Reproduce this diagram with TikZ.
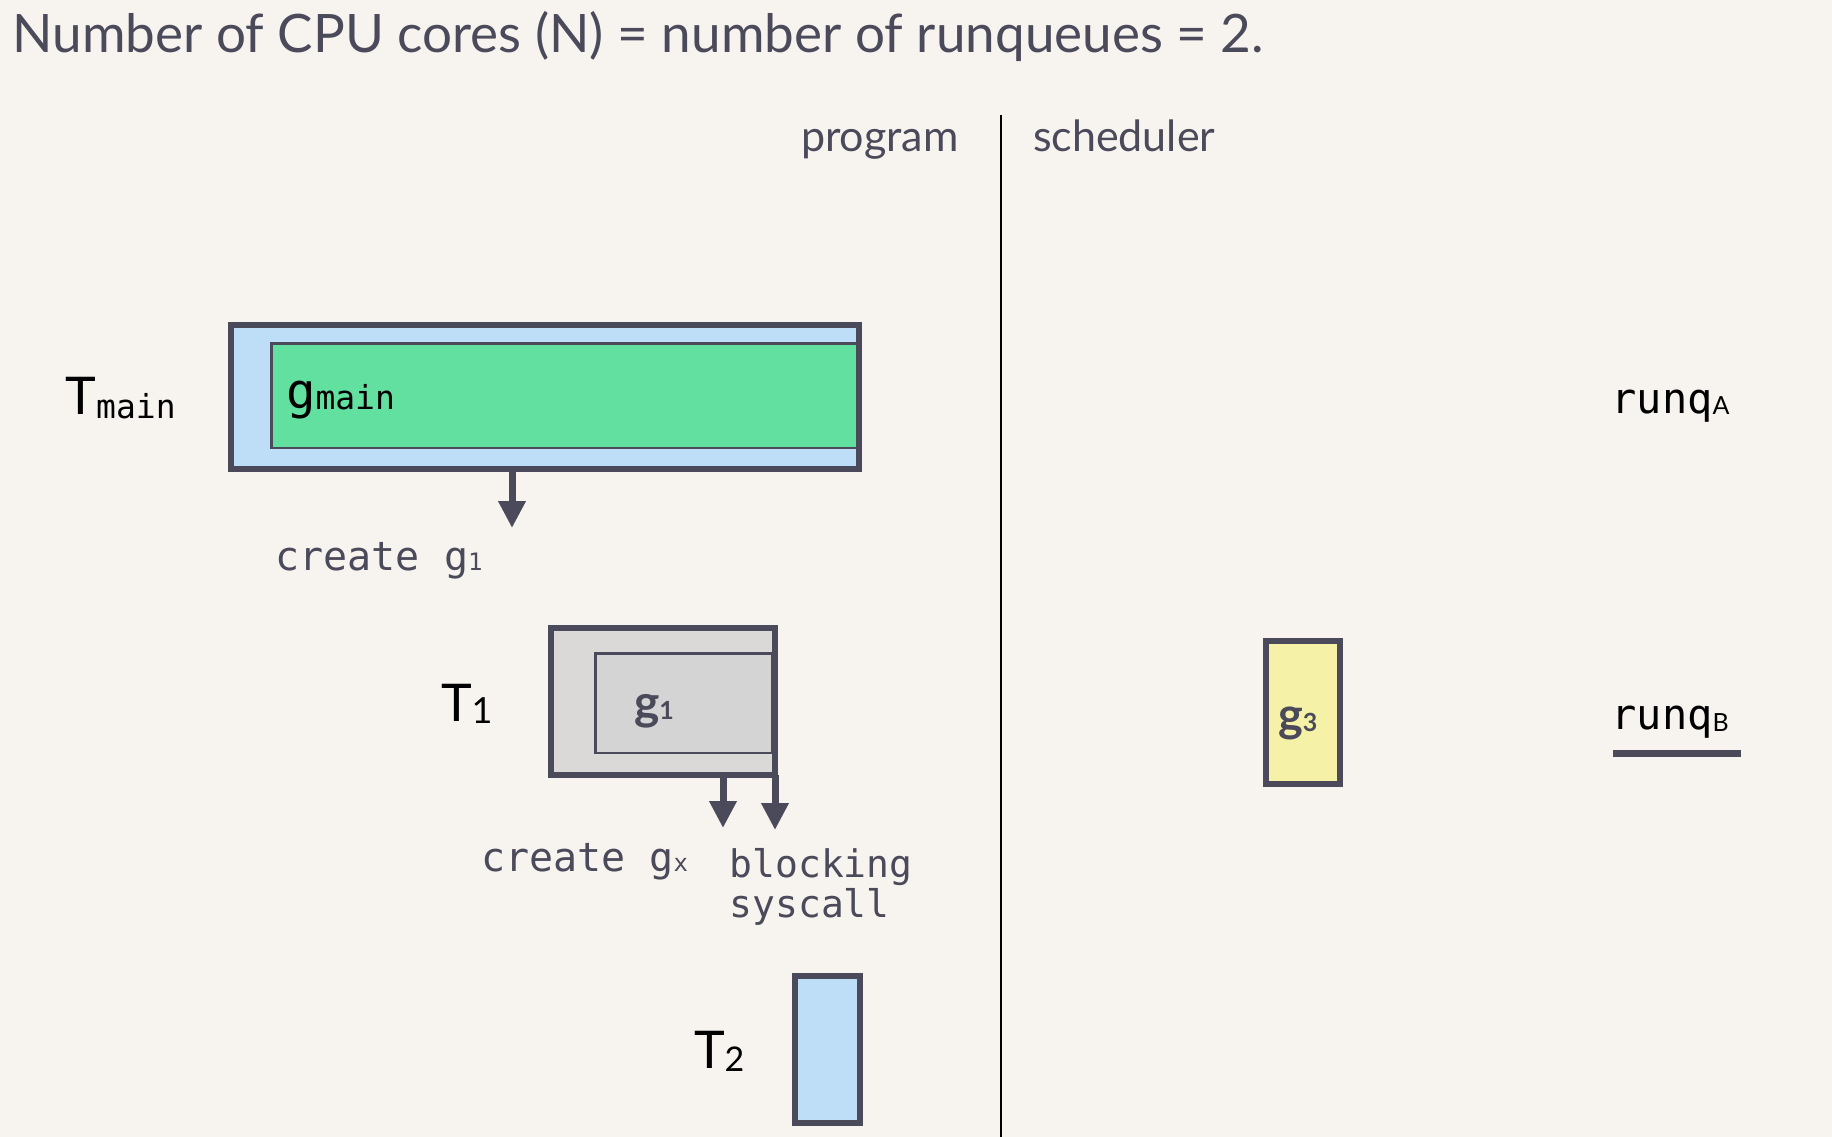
\documentclass[tikz,border=0pt]{standalone}
\usepackage{fontspec}
\setmainfont{Lato}
\newfontfamily\monof{DejaVu Sans Mono}
\usetikzlibrary{arrows.meta}
\definecolor{bg}{HTML}{F7F3EF}
\definecolor{dark}{HTML}{4A4A5A}
\definecolor{tblue}{HTML}{BEDDF7}
\definecolor{ggreen}{HTML}{62E0A0}
\definecolor{grayout}{HTML}{DAD9D8}
\definecolor{grayin}{HTML}{D4D4D4}
\definecolor{gyellow}{HTML}{F5F2A8}
\newcommand\fsz[1]{\fontsize{#1}{#1}\selectfont}
\tikzset{
  lbl/.style={inner sep=0pt, outer sep=0pt, anchor=base west},
  boxthick/.style={draw=dark, line width=6pt, inner sep=0pt, outer sep=0pt, rectangle},
  boxthin/.style={draw=dark, line width=2.5pt, inner sep=0pt, outer sep=0pt, rectangle},
  arr/.style={draw=dark, line width=7pt, -{Triangle[width=26pt,length=27pt]}},
}
\begin{document}
\begin{tikzpicture}[x=1pt,y=-1pt]
\fill[bg] (0,0) rectangle (1832,1137);
\useasboundingbox (0,0) rectangle (1832,1137);

% title
\node[lbl, text=dark] (title) at (12.5,53) {\fsz{53}Number of CPU cores (N) = number of runqueues = 2.};

% divider
\coordinate (dtop) at (1001,115);
\coordinate (dbot) at (1001,1137);
\draw[black, line width=2.5pt] (dtop) -- (dbot);
\node[lbl, text=dark] (program) at (801,152) {\fsz{43}program};
\node[lbl, text=dark] (scheduler) at (1033,152) {\fsz{43}scheduler};

% T main
\node[lbl] (tmainlbl) at (65.5,414) {\fsz{52}T\raisebox{-4pt}{\monof\fsz{33}main}};
\node[boxthick, fill=tblue, minimum width=628.5pt, minimum height=144pt] (tmain) at (544.75,397) {};
\node[boxthin, fill=ggreen, minimum width=585.5pt, minimum height=104.5pt] (gmain) at (564,395.5) {};
\node[lbl] (gmainlbl) at (286,408) {\monof\fsz{49}g\raisebox{-1pt}{\fsz{33}main}};

\coordinate (c1) at (512,528);
\draw[arr] (tmain.south -| c1) -- (c1);
\node[lbl, text=dark] (cg1) at (275.5,570) {\monof\fsz{40}create g{\fsz{24}1}};

% T1
\node[lbl] (t1lbl) at (441,721) {\fsz{52}T\raisebox{-2pt}{\fsz{36}1}};
\node[boxthick, fill=grayout, minimum width=224pt, minimum height=147pt] (t1) at (663,701.5) {};
\node[boxthin, fill=grayin, minimum width=176.5pt, minimum height=99.5pt] (g1) at (683.5,703) {};
\node[lbl, text=dark] (g1lbl) at (634,719) {\fsz{48}\bfseries g{\fsz{25}1}};

\coordinate (c2) at (723,828);
\coordinate (c3) at (775,830);
\draw[arr] (t1.south -| c2) -- (c2);
\draw[arr] (t1.south east) -- (c3);
\node[lbl, text=dark] (cgx) at (481,871) {\monof\fsz{40}create g{\fsz{24}x}};
\node[lbl, text=dark] (blk) at (729.5,877) {\monof\fsz{38}blocking};
\node[lbl, text=dark] (sys) at (729.5,917) {\monof\fsz{38}syscall};

% T2
\node[lbl] (t2lbl) at (694,1068) {\fsz{52}T\raisebox{-3pt}{\fsz{34}2}};
\node[boxthick, fill=tblue, minimum width=65pt, minimum height=147pt] (t2) at (827.5,1049.5) {};

% g3
\node[boxthick, fill=gyellow, minimum width=74.5pt, minimum height=143pt] (g3) at (1302.75,712.5) {};
\node[lbl, text=dark] (g3lbl) at (1278,731) {\fsz{47}\bfseries g{\fsz{25}3}};

% runqueues
\node[lbl] (rqa) at (1611.5,413) {\monof\fsz{42}runq\raisebox{-1pt}{\rmfamily\fsz{25}A}};
\node[lbl] (rqb) at (1611.5,729) {\monof\fsz{42}runq\raisebox{-2pt}{\rmfamily\fsz{25}B}};
\coordinate (ula) at (1613,753.5);
\coordinate (ulb) at (1741,753.5);
\draw[dark, line width=6.5pt] (ula) -- (ulb);
\end{tikzpicture}
\end{document}
